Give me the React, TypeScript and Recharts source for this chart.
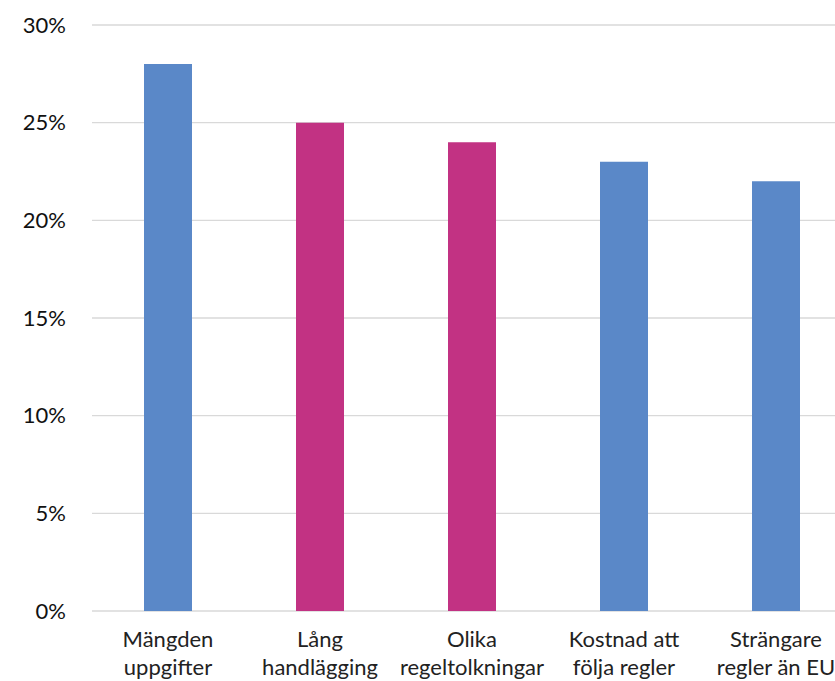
import React from "react";
import { BarChart, Bar, XAxis, YAxis, CartesianGrid, Cell } from "recharts";

const categories = [
  ["Mängden", "uppgifter"],
  ["Lång", "handlägging"],
  ["Olika", "regeltolkningar"],
  ["Kostnad att", "följa regler"],
  ["Strängare", "regler än EU"],
];
const values = [0.28, 0.25, 0.24, 0.23, 0.22];
const barColors = ["#5A88C8", "#C23283", "#C23283", "#5A88C8", "#5A88C8"];
const yTicks = [0, 0.05, 0.1, 0.15, 0.2, 0.25, 0.3];

const data = categories.map((c, i) => ({ name: c.join("|"), value: values[i] }));

const XTick = (props: any) => {
  const { x, payload } = props;
  const lines = String(payload.value).split("|");
  return (
    <text x={x} y={647} textAnchor="middle" fill="#222" fontSize={22} fontFamily="Lato">
      {lines.map((l, i) => (
        <tspan key={i} x={x} y={647 + i * 28}>
          {l}
        </tspan>
      ))}
    </text>
  );
};

export default function App() {
  return (
    <div
      style={{
        position: "absolute",
        left: 0,
        top: 0,
        width: 835,
        height: 681,
        overflow: "hidden",
        background: "#fff",
        fontFamily: "Lato",
      }}
    >
      <BarChart
        width={860}
        height={681}
        data={data}
        margin={{ top: 25, right: 8, left: 0, bottom: 0 }}
      >
        <CartesianGrid vertical={false} stroke="#D9D9D9" strokeWidth={1.3} />
        <XAxis
          dataKey="name"
          axisLine={false}
          tickLine={false}
          height={70}
          interval={0}
          tick={<XTick />}
        />
        <YAxis
          width={92}
          domain={[0, 0.3]}
          ticks={yTicks}
          axisLine={false}
          tickLine={false}
          tickMargin={20}
          tick={{ fill: "#111", fontSize: 22, fontFamily: "Lato" }}
          tickFormatter={(v: number) => `${Math.round(v * 100)}%`}
        />
        <Bar dataKey="value" barSize={48} isAnimationActive={false}>
          {data.map((_, i) => (
            <Cell key={i} fill={barColors[i]} />
          ))}
        </Bar>
      </BarChart>
    </div>
  );
}
